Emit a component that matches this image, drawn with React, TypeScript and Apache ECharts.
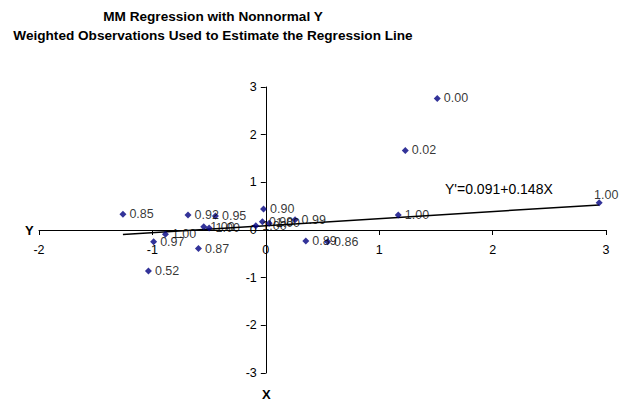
import React, { useEffect, useRef } from "react";
import * as echarts from "echarts";

const xValues = [-1.26, -0.686, -0.444, -0.547, -0.5, -0.885, -0.989, -1.035, -0.594, -0.02, -0.088, -0.03, 0.03, 0.258, 0.353, 0.545, 1.168, 1.23, 1.512, 2.94];
const yValues = [0.33, 0.315, 0.293, 0.07, 0.042, -0.09, -0.245, -0.86, -0.39, 0.44, 0.09, 0.174, 0.14, 0.215, -0.23, -0.245, 0.314, 1.67, 2.76, 0.57];
const weights = ["0.85", "0.92", "0.95", "1.00", "1.00", "1.00", "0.97", "0.52", "0.87", "0.90", "1.00", "0.98", "1.00", "0.99", "0.89", "0.86", "1.00", "0.02", "0.00", "1.00"];
const intercept = 0.091;
const slope = 0.148;
const equationText = "Y'=0.091+0.148X";
const titleLines = ["MM Regression with Nonnormal Y", "Weighted Observations Used to Estimate the Regression Line"];

const FONT = "'Liberation Sans', Arial, sans-serif";

export default function App() {
  const ref = useRef<HTMLDivElement>(null);
  useEffect(() => {
    if (!ref.current) return;
    document.body.style.margin = "0";
    const chart = echarts.init(ref.current, null, { renderer: "svg" });
    const minX = Math.min(...xValues);
    const maxX = Math.max(...xValues);
    const pts = xValues.map((x, i) => {
      const d: any = { value: [x, yValues[i]], name: weights[i] };
      if (x === maxX) {
        d.label = { position: "top", distance: 1, offset: [7, 3] };
      }
      return d;
    });
    chart.setOption({
      animation: false,
      backgroundColor: "#fff",
      textStyle: { fontFamily: FONT },
      title: {
        text: titleLines.join("\n"),
        left: 208,
        top: 2,
        textAlign: "center",
        textStyle: { fontSize: 13.6, fontWeight: "bold", color: "#000", lineHeight: 19, fontFamily: FONT },
      },
      grid: { left: 39, right: 19, top: 87, bottom: 31 },
      xAxis: {
        type: "value",
        min: -2,
        max: 3,
        interval: 1,
        splitLine: { show: false },
        axisLine: { onZero: false, lineStyle: { color: "#000", width: 1 } },
        axisTick: { show: true, length: 5, lineStyle: { color: "#000" } },
        axisLabel: { color: "#000", fontSize: 12.5, margin: 13, fontFamily: FONT },
      },
      yAxis: {
        type: "value",
        min: -3,
        max: 3,
        interval: 1,
        splitLine: { show: false },
        axisLine: { onZero: false, lineStyle: { color: "#000", width: 1 } },
        axisTick: { show: true, length: 5, lineStyle: { color: "#000" } },
        axisLabel: { color: "#000", fontSize: 12.5, margin: 9, fontFamily: FONT },
      },
      graphic: [
        { type: "text", left: 25, top: 224, style: { text: "Y", font: `bold 13px ${FONT}`, fill: "#000" } },
        { type: "text", left: 262, top: 388, style: { text: "X", font: `bold 13px ${FONT}`, fill: "#000" } },
        { type: "text", left: 445, top: 182, style: { text: equationText, font: `14px ${FONT}`, fill: "#000" } },
      ],
      series: [
        {
          type: "line",
          data: [
            [minX, intercept + slope * minX],
            [maxX, intercept + slope * maxX],
          ],
          showSymbol: false,
          symbol: "none",
          lineStyle: { color: "#000", width: 1.5 },
          z: 3,
        },
        {
          type: "scatter",
          data: pts,
          symbol: "diamond",
          symbolSize: 7,
          itemStyle: { color: "#000080" },
          label: {
            show: true,
            position: "right",
            distance: 3,
            formatter: (p: any) => p.name,
            color: "#000",
            fontSize: 12.5,
            fontFamily: FONT,
          },
          z: 4,
        },
      ],
    });
    // Move the axes so that they cross at zero, as in the reference.
    const origin = chart.convertToPixel({ gridIndex: 0 }, [0, 0]) as number[];
    const corner = chart.convertToPixel({ gridIndex: 0 }, [-2, -3]) as number[];
    chart.setOption({
      xAxis: { offset: -(corner[1] - origin[1]) },
      yAxis: { offset: -(origin[0] - corner[0]) },
    });
    return () => chart.dispose();
  }, []);
  return <div ref={ref} style={{ width: 625, height: 404 }} />;
}
